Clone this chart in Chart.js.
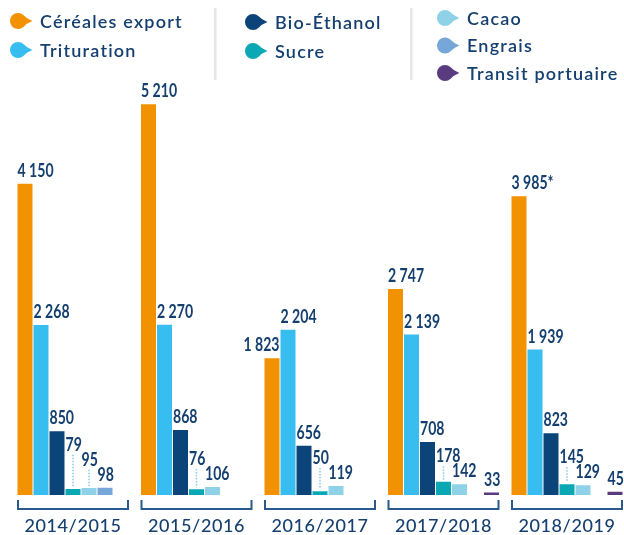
<!DOCTYPE html>
<html>
<head>
<meta charset="utf-8">
<script src="https://cdn.jsdelivr.net/npm/chart.js@4.4.1/dist/chart.umd.min.js"></script>
<style>
  html, body { margin: 0; padding: 0; background: #fff; overflow: hidden; }
  #wrap { width: 640px; height: 535px; }
</style>
</head>
<body>
<div id="wrap"><canvas id="chart" width="640" height="535"></canvas></div>
<script>
// Data
const seasons = ["2014/2015", "2015/2016", "2016/2017", "2017/2018", "2018/2019"];
const seriesNames = ["Céréales export", "Trituration", "Bio-Éthanol", "Sucre", "Cacao", "Engrais", "Transit portuaire"];
const cereales = [4150, 5210, 1823, 2747, 3985];
const trituration = [2268, 2270, 2204, 2139, 1939];
const bioEthanol = [850, 868, 656, 708, 823];
const sucre = [79, 76, 50, 178, 145];
const cacao = [95, 106, 119, 142, 129];
const engrais = [98, null, null, null, null];
const transit = [null, null, null, 33, 45];
const cerealesNotes = ["", "", "", "", "*"];

const colors = ["#f39200", "#38bdf0", "#0b4478", "#0aa8b5", "#8fd2e8", "#77a6d8", "#5b3b80"];
const navy = "#143f6f";
const values = [cereales, trituration, bioEthanol, sucre, cacao, engrais, transit];

// value labels: Lato squeezed horizontally to look condensed
const labelFont = 'bold 19px Lato, "DejaVu Sans", sans-serif';
const squeeze = 0.74;
const legendFont = '600 18px Lato, "Noto Sans", sans-serif';

function fmt(v) {
  return String(v).replace(/\B(?=(\d{3})+(?!\d))/g, " ");
}

// Leaf shaped marker used in the legend
function leaf(ctx, cx, cy, r, color) {
  ctx.beginPath();
  ctx.arc(cx, cy, r, Math.PI / 4, -Math.PI / 4, false);
  ctx.quadraticCurveTo(cx + r * 1.05, cy - r * 0.3, cx + r * 1.8, cy);
  ctx.quadraticCurveTo(cx + r * 1.05, cy + r * 0.3, cx + r * Math.cos(Math.PI / 4), cy + r * Math.sin(Math.PI / 4));
  ctx.closePath();
  ctx.fillStyle = color;
  ctx.fill();
}

const legendPlugin = {
  id: "leafLegend",
  afterDraw(chart) {
    const ctx = chart.ctx;
    const cols = [
      { x: 18, items: [0, 1], ys: [21, 50] },
      { x: 253, items: [2, 3], ys: [22, 51] },
      { x: 445, items: [4, 5, 6], ys: [18, 45.5, 73] },
    ];
    ctx.save();
    ctx.fillStyle = "#e6e6e6";
    ctx.fillRect(214, 8, 2.5, 72);
    ctx.fillRect(410, 8, 2.5, 72);
    ctx.font = legendFont;
    ctx.letterSpacing = "1.2px";
    ctx.textBaseline = "middle";
    cols.forEach((c) => {
      c.items.forEach((i, k) => {
        leaf(ctx, c.x, c.ys[k], 8, colors[i]);
        ctx.fillStyle = navy;
        ctx.fillText(chart.data.datasets[i].label, c.x + 22, c.ys[k] + 1);
      });
    });
    ctx.restore();
  },
};

const axisPlugin = {
  id: "brackets",
  afterDraw(chart) {
    const ctx = chart.ctx;
    const x = chart.scales.x;
    const bottom = chart.chartArea.bottom;
    const catW = x.width / seasons.length;
    const half = (catW * chart.options.datasets.bar.categoryPercentage) / 2;
    ctx.save();
    ctx.strokeStyle = "#2a5a8d";
    ctx.lineWidth = 2;
    ctx.font = '500 18px Lato, "Noto Sans", sans-serif';
    ctx.letterSpacing = "0.6px";
    ctx.fillStyle = navy;
    ctx.textAlign = "center";
    ctx.textBaseline = "middle";
    seasons.forEach((s, i) => {
      const c = x.getPixelForValue(i);
      ctx.beginPath();
      ctx.moveTo(c - half + 1, bottom + 5);
      ctx.lineTo(c - half + 1, bottom + 14);
      ctx.lineTo(c + half - 1, bottom + 14);
      ctx.lineTo(c + half - 1, bottom + 5);
      ctx.stroke();
      ctx.fillText(s, c, bottom + 31);
    });
    ctx.restore();
  },
};

const valuePlugin = {
  id: "values",
  afterDatasetsDraw(chart) {
    const ctx = chart.ctx;
    ctx.save();
    ctx.font = labelFont;
    ctx.textBaseline = "alphabetic";
    const capH = 14;
    seasons.forEach((s, j) => {
      let next = null;
      let nextBar = null;
      for (let i = values.length - 1; i >= 0; i--) {
        const v = values[i][j];
        if (v === null) continue;
        const bar = chart.getDatasetMeta(i).data[j];
        const text = fmt(v) + (i === 0 ? cerealesNotes[j] : "");
        const w = ctx.measureText(text).width * squeeze;
        const natural = bar.y - 7;
        const box = { left: bar.x - bar.width / 2, right: bar.x - bar.width / 2 + w, bottom: natural };
        box.top = box.bottom - capH;
        // staircase small labels so they do not collide with the next one
        if (next && box.right + 4 > next.left && box.bottom > next.top && box.top < next.bottom + 6) {
          box.bottom = next.top - 1;
          box.top = box.bottom - capH;
        }
        // shift left when the label would run into the next bar
        if (nextBar && box.right > nextBar.x - nextBar.width / 2 && box.bottom > nextBar.y) {
          box.right = bar.x + bar.width / 2;
          box.left = box.right - w;
        }
        ctx.save();
        ctx.translate(box.left, box.bottom);
        ctx.scale(squeeze, 1);
        ctx.fillStyle = navy;
        ctx.fillText(text, 0, 0);
        ctx.restore();
        if (box.bottom < natural - 4) {
          ctx.beginPath();
          ctx.setLineDash([1.5, 1.5]);
          ctx.strokeStyle = "#84cde3";
          ctx.lineWidth = 1.5;
          ctx.moveTo(bar.x, box.bottom + 4);
          ctx.lineTo(bar.x, bar.y - 2);
          ctx.stroke();
          ctx.setLineDash([]);
        }
        next = box;
        nextBar = bar;
      }
    });
    ctx.restore();
  },
};

function build() {
  new Chart(document.getElementById("chart"), {
    type: "bar",
    data: {
      labels: seasons,
      datasets: seriesNames.map((name, i) => ({
        label: name,
        data: values[i],
        backgroundColor: colors[i],
        borderWidth: 0,
      })),
    },
    options: {
      responsive: false,
      animation: false,
      layout: { padding: { left: 11.25, right: 11.25, top: 45, bottom: 40 } },
      datasets: { bar: { categoryPercentage: 112 / 123.5, barPercentage: 15 / 16 } },
      scales: {
        x: { display: false, grid: { display: false } },
        y: { display: false, min: 0, max: 6000 },
      },
      plugins: { legend: { display: false }, tooltip: { enabled: false } },
    },
    plugins: [legendPlugin, axisPlugin, valuePlugin],
  });
}

Promise.all([
  document.fonts.load(labelFont),
  document.fonts.load(legendFont),
]).then(build, build);
</script>
</body>
</html>
